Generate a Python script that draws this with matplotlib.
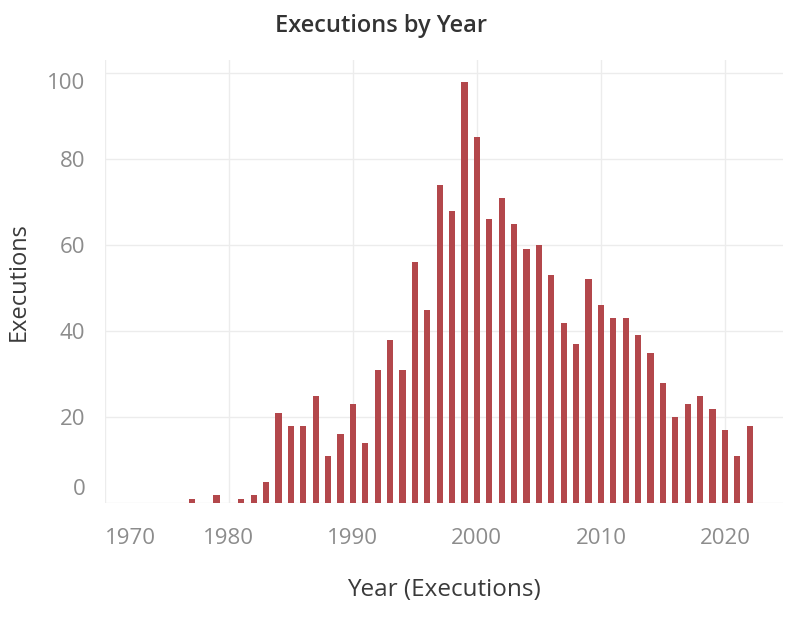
import matplotlib.pyplot as plt
from matplotlib.transforms import ScaledTranslation

years = [1977, 1979, 1981, 1982, 1983, 1984, 1985, 1986, 1987, 1988, 1989,
         1990, 1991, 1992, 1993, 1994, 1995, 1996, 1997, 1998, 1999,
         2000, 2001, 2002, 2003, 2004, 2005, 2006, 2007, 2008, 2009,
         2010, 2011, 2012, 2013, 2014, 2015, 2016, 2017, 2018, 2019,
         2020, 2021, 2022]
executions = [1, 2, 1, 2, 5, 21, 18, 18, 25, 11, 16,
              23, 14, 31, 38, 31, 56, 45, 74, 68, 98,
              85, 66, 71, 65, 59, 60, 53, 42, 37, 52,
              46, 43, 43, 39, 35, 28, 20, 23, 25, 22,
              17, 11, 18]
x_ticks = [1970, 1980, 1990, 2000, 2010, 2020]
y_ticks = [0, 20, 40, 60, 80, 100]

plt.rcParams['font.family'] = ['Open Sans', 'DejaVu Sans']

fig = plt.figure(figsize=(8, 6.19), dpi=100)
ax = fig.add_axes([0.131, 0.187, 0.848, 0.716])

ax.bar(years, executions, width=0.5, color='#b3474b', zorder=3)

ax.set_xlim(1970.2, 2024.7)
ax.set_ylim(0, 103)
ax.set_xticks(x_ticks)
ax.set_yticks(y_ticks)
ax.set_xticklabels([str(t) for t in x_ticks])
ax.set_yticklabels([str(t) for t in y_ticks])
ax.grid(True, color='#ececec', linewidth=1, zorder=0)
for spine in ax.spines.values():
    spine.set_visible(False)
ax.tick_params(length=0, labelsize=16, labelcolor='#8c8c8c')
ax.tick_params(axis='x', pad=18)
ax.tick_params(axis='y', pad=14)

# edge labels nudged inside, the way the original dashboard draws them
ax.xaxis.get_major_ticks()[0].label1.set_horizontalalignment('left')
ticks_y = ax.yaxis.get_major_ticks()
ticks_y[0].label1.set_transform(ticks_y[0].label1.get_transform() + ScaledTranslation(0, 16 / 100, fig.dpi_scale_trans))
ticks_y[-1].label1.set_transform(ticks_y[-1].label1.get_transform() + ScaledTranslation(0, -8 / 100, fig.dpi_scale_trans))

ax.set_xlabel('Year (Executions)', fontsize=17.5, color='#3a3a3a', labelpad=21)
ax.set_ylabel('Executions', fontsize=17, color='#3a3a3a', labelpad=12)
fig.text(0.476, 0.958, 'Executions by Year', ha='center', va='center',
         fontsize=17, fontweight='semibold', color='#333333')

fig.savefig('out.png', dpi=100)
